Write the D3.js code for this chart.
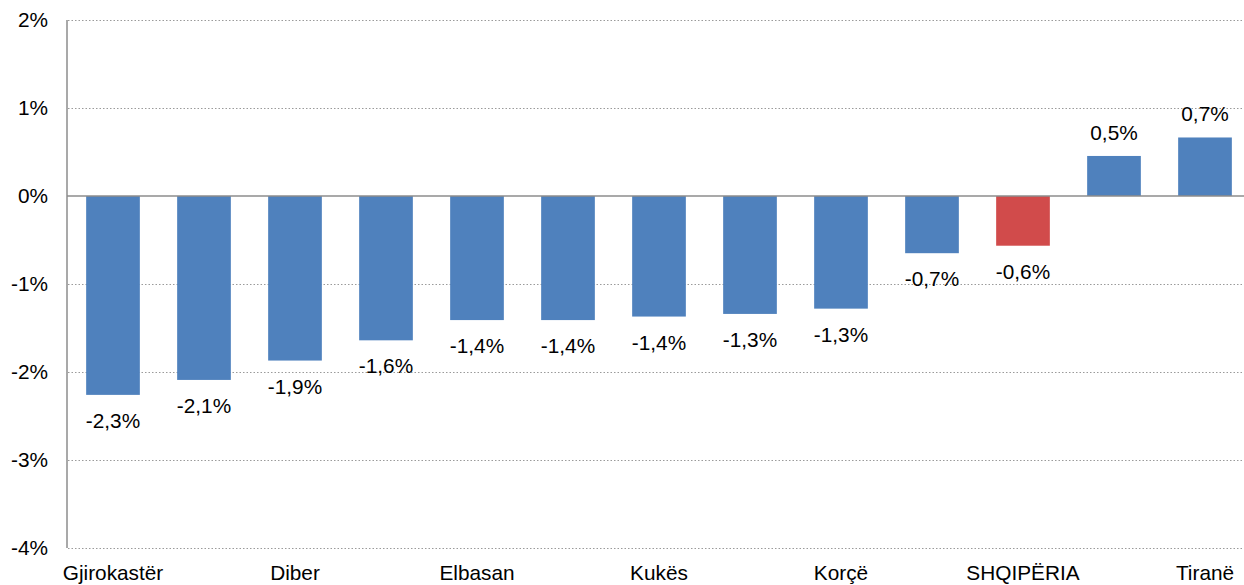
<!DOCTYPE html>
<html>
<head>
<meta charset="utf-8">
<script src="https://cdn.jsdelivr.net/npm/d3@7"></script>
<style>
  body { margin: 0; background: #fff; }
  text { font-family: Arial, "Liberation Sans", sans-serif; fill: #000; }
</style>
</head>
<body>
<svg width="1244" height="585"></svg>
<script>
const categories = ["Gjirokastër", "Berat", "Diber", "Vlorë", "Elbasan", "Fier", "Kukës",
  "Shkodër", "Korçë", "Lezhë", "SHQIPËRIA", "Durrës", "Tiranë"];
const values = [-2.26, -2.09, -1.87, -1.64, -1.41, -1.41, -1.37, -1.34, -1.28, -0.65, -0.565, 0.455, 0.665];
const valueLabels = ["-2,3%", "-2,1%", "-1,9%", "-1,6%", "-1,4%", "-1,4%", "-1,4%",
  "-1,3%", "-1,3%", "-0,7%", "-0,6%", "0,5%", "0,7%"];
const yTicks = [-4, -3, -2, -1, 0, 1, 2];
const highlight = "SHQIPËRIA";

function main() {
  const svg = d3.select("svg");
  const data = categories.map((c, i) => ({ name: c, value: values[i], label: valueLabels[i] }));
  const fontSize = "20.8px";

  const x = d3.scaleBand()
    .domain(categories)
    .range([67.5, 1250.5])
    .paddingInner(0.41)
    .paddingOuter(0.205);

  const y = d3.scaleLinear()
    .domain([-4, 2])
    .range([548, 20]);

  // dotted gridlines
  svg.append("g")
    .selectAll("line")
    .data(yTicks.filter(d => d !== 0))
    .join("line")
    .attr("x1", 68)
    .attr("x2", 1244)
    .attr("y1", d => Math.round(y(d)) + 0.5)
    .attr("y2", d => Math.round(y(d)) + 0.5)
    .style("stroke", "#9a9a9a")
    .style("stroke-width", 1)
    .style("stroke-dasharray", "1.5,2");

  // y tick labels
  svg.append("g")
    .selectAll("text")
    .data(yTicks)
    .join("text")
    .attr("x", 48)
    .attr("y", d => y(d))
    .attr("dy", "0.35em")
    .attr("text-anchor", "end")
    .style("font-size", fontSize)
    .text(d => d + "%");

  // bars
  svg.append("g")
    .selectAll("rect")
    .data(data)
    .join("rect")
    .attr("x", d => x(d.name))
    .attr("width", x.bandwidth())
    .attr("y", d => y(Math.max(0, d.value)))
    .attr("height", d => Math.abs(y(d.value) - y(0)))
    .style("fill", d => d.name === highlight ? "#D14B4B" : "#4F81BD");

  // zero line and left axis
  svg.append("line")
    .attr("x1", 67).attr("x2", 1244)
    .attr("y1", y(0)).attr("y2", y(0))
    .style("stroke", "#8c8c8c")
    .style("stroke-width", 1.5);
  svg.append("line")
    .attr("x1", 67).attr("x2", 67)
    .attr("y1", y(2)).attr("y2", y(-4))
    .style("stroke", "#8c8c8c")
    .style("stroke-width", 1.5);

  // value labels
  svg.append("g")
    .selectAll("text")
    .data(data)
    .join("text")
    .attr("x", d => x(d.name) + x.bandwidth() / 2)
    .attr("y", d => d.value < 0 ? y(d.value) + 33 : y(d.value) - 16)
    .attr("text-anchor", "middle")
    .style("font-size", fontSize)
    .text(d => d.label);

  // category labels (every second one shown)
  svg.append("g")
    .selectAll("text")
    .data(data.filter((d, i) => i % 2 === 0))
    .join("text")
    .attr("x", d => x(d.name) + x.bandwidth() / 2)
    .attr("y", 580)
    .attr("text-anchor", "middle")
    .style("font-size", fontSize)
    .text(d => d.name);
}
main();
</script>
</body>
</html>
